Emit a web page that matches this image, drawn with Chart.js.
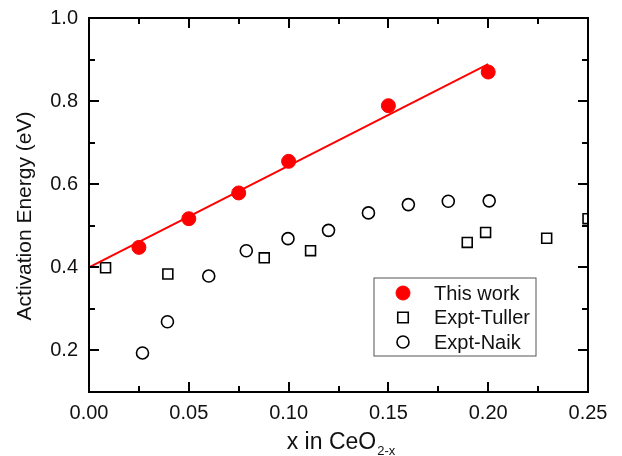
<!DOCTYPE html>
<html>
<head>
<meta charset="utf-8">
<script src="https://cdn.jsdelivr.net/npm/chart.js@4/dist/chart.umd.min.js"></script>
<style>
    html, body { margin: 0; padding: 0; background: #fff; }
    #wrap { width: 622px; height: 456px; position: relative; }
</style>
</head>
<body>
<div id="wrap"><canvas id="chart"></canvas></div>
<script>
    // --- data ---
    const workX   = [0.025, 0.05, 0.075, 0.10, 0.15, 0.20];
    const workY   = [0.448, 0.517, 0.579, 0.655, 0.789, 0.870];
    const fitX    = [0.0, 0.20];
    const fitY    = [0.400, 0.889];
    const tullerX = [0.0083, 0.0395, 0.0878, 0.111, 0.1895, 0.1987, 0.2293, 0.25];
    const tullerY = [0.399, 0.384, 0.423, 0.440, 0.460, 0.484, 0.470, 0.517];
    const naikX   = [0.0268, 0.0393, 0.060, 0.0788, 0.0997, 0.120, 0.140, 0.160, 0.180, 0.2005];
    const naikY   = [0.194, 0.269, 0.379, 0.440, 0.469, 0.489, 0.531, 0.551, 0.559, 0.560];

    const xTicks      = [0, 0.05, 0.10, 0.15, 0.20, 0.25];
    const xTickLabels = ['0.00', '0.05', '0.10', '0.15', '0.20', '0.25'];
    const yTicks      = [0.2, 0.4, 0.6, 0.8, 1.0];
    const yTickLabels = ['0.2', '0.4', '0.6', '0.8', '1.0'];
    const xMinor      = [0.025, 0.075, 0.125, 0.175, 0.225];
    const yMinor      = [0.3, 0.5, 0.7, 0.9];

    const FONT = '"Liberation Sans", Arial, sans-serif';
    const pts = (xs, ys) => xs.map((x, i) => ({ x, y: ys[i] }));

    // frame, inward ticks, titles, legend
    const framePlugin = {
        id: 'frame',
        afterDraw(chart) {
            const ctx = chart.ctx;
            const a = chart.chartArea;
            const sx = chart.scales.x, sy = chart.scales.y;
            ctx.save();
            ctx.fillStyle = '#000';
            // frame
            ctx.fillRect(a.left - 1, a.top - 1, a.right - a.left + 2, 2);
            ctx.fillRect(a.left - 1, a.bottom - 1, a.right - a.left + 2, 2);
            ctx.fillRect(a.left - 1, a.top - 1, 2, a.bottom - a.top + 2);
            ctx.fillRect(a.right - 1, a.top - 1, 2, a.bottom - a.top + 2);

            const xTick = (v, len) => {
                const px = Math.round(sx.getPixelForValue(v));
                ctx.fillRect(px - 1, a.bottom - len, 2, len);
                ctx.fillRect(px - 1, a.top, 2, len);
            };
            const yTick = (v, len) => {
                const py = Math.round(sy.getPixelForValue(v));
                ctx.fillRect(a.left, py - 1, len, 2);
                ctx.fillRect(a.right - len, py - 1, len, 2);
            };
            xTicks.slice(1, -1).forEach(v => xTick(v, 10));
            xMinor.forEach(v => xTick(v, 6));
            yTicks.slice(0, -1).forEach(v => yTick(v, 10));
            yMinor.forEach(v => yTick(v, 6));

            // titles
            ctx.fillStyle = '#111';
            ctx.font = '21px ' + FONT;
            ctx.textAlign = 'center';
            ctx.textBaseline = 'middle';
            ctx.save();
            ctx.translate(25, 216);
            ctx.rotate(-Math.PI / 2);
            ctx.fillText('Activation Energy (eV)', 0, 0);
            ctx.restore();

            const main = 'x in CeO', sub = '2-x';
            ctx.textAlign = 'left';
            ctx.textBaseline = 'alphabetic';
            ctx.font = '23px ' + FONT;
            const wMain = ctx.measureText(main).width;
            ctx.font = '13px ' + FONT;
            const wSub = ctx.measureText(sub).width;
            const x0 = (a.left + a.right) / 2 - (wMain + wSub) / 2 + 2;
            ctx.font = '23px ' + FONT;
            ctx.fillText(main, x0, 449);
            ctx.font = '13px ' + FONT;
            ctx.fillText(sub, x0 + wMain + 1, 455);

            // legend box
            const bx = a.right - 214, by = a.bottom - 114, bw = 162, bh = 78;
            ctx.lineWidth = 1;
            ctx.strokeStyle = '#555';
            ctx.strokeRect(bx, by, bw, bh);
            ctx.font = '20px ' + FONT;
            ctx.textBaseline = 'middle';
            const legendSets = chart.data.datasets.filter(d => d.label);
            legendSets.forEach((d, i) => {
                const ly = by + 15 + i * 24.5;
                ctx.beginPath();
                ctx.lineWidth = d.borderWidth;
                ctx.strokeStyle = d.borderColor;
                if (d.pointStyle === 'rect') {
                    const s = d.pointRadius * 0.75;
                    ctx.rect(bx + 29 - s, ly - s, 2 * s, 2 * s);
                } else {
                    ctx.arc(bx + 29, ly, d.pointRadius, 0, Math.PI * 2);
                }
                if (d.pointBackgroundColor !== 'transparent') {
                    ctx.fillStyle = d.pointBackgroundColor;
                    ctx.fill();
                }
                ctx.stroke();
                ctx.fillStyle = '#111';
                ctx.fillText(d.label, bx + 60, ly + 1);
            });
            ctx.restore();
        }
    };

    new Chart(document.getElementById('chart'), {
        type: 'scatter',
        data: {
            datasets: [
                {
                    type: 'line',
                    data: pts(fitX, fitY),
                    borderColor: '#ff0000',
                    borderWidth: 2,
                    pointRadius: 0,
                    fill: false,
                    order: 2
                },
                {
                    label: 'This work',
                    data: pts(workX, workY),
                    pointStyle: 'circle',
                    pointRadius: 7,
                    pointBackgroundColor: '#ff0000',
                    borderColor: '#ff0000',
                    borderWidth: 1,
                    order: 1
                },
                {
                    label: 'Expt-Tuller',
                    data: pts(tullerX, tullerY),
                    pointStyle: 'rect',
                    pointRadius: 7,
                    pointBackgroundColor: 'transparent',
                    borderColor: '#000',
                    borderWidth: 1.6,
                    clip: 0,
                    order: 3
                },
                {
                    label: 'Expt-Naik',
                    data: pts(naikX, naikY),
                    pointStyle: 'circle',
                    pointRadius: 6,
                    pointBackgroundColor: 'transparent',
                    borderColor: '#000',
                    borderWidth: 1.6,
                    order: 3
                }
            ]
        },
        options: {
            responsive: true,
            maintainAspectRatio: false,
            animation: false,
            layout: { padding: { top: 18, right: 34, left: 0, bottom: 0 } },
            plugins: {
                legend: { display: false },
                tooltip: { enabled: false }
            },
            scales: {
                x: {
                    type: 'linear',
                    min: 0, max: 0.25,
                    afterFit: s => { s.height = 64; s.paddingLeft = 0; s.paddingRight = 0; },
                    afterBuildTicks: s => { s.ticks = xTicks.map(v => ({ value: v })); },
                    grid: { display: false, drawTicks: false },
                    border: { display: false },
                    ticks: {
                        padding: 9,
                        color: '#111',
                        font: { family: FONT, size: 20 },
                        callback: (v, i) => xTickLabels[i]
                    }
                },
                y: {
                    min: 0.1, max: 1.0,
                    afterFit: s => { s.width = 89; s.paddingTop = 0; s.paddingBottom = 0; },
                    afterBuildTicks: s => { s.ticks = yTicks.map(v => ({ value: v })); },
                    grid: { display: false, drawTicks: false },
                    border: { display: false },
                    ticks: {
                        padding: 11,
                        color: '#111',
                        font: { family: FONT, size: 20 },
                        callback: (v, i) => yTickLabels[i]
                    }
                }
            }
        },
        plugins: [framePlugin]
    });
</script>
</body>
</html>
